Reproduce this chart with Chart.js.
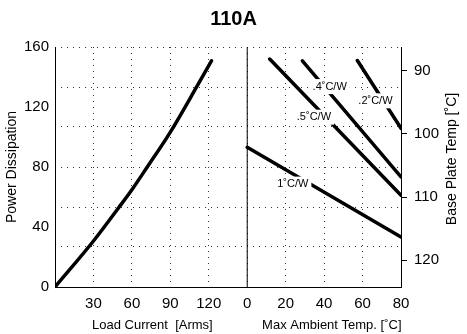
<!DOCTYPE html>
<html>
<head>
<meta charset="utf-8">
<script src="https://cdn.jsdelivr.net/npm/chart.js@4"></script>
<style>
html, body { margin: 0; padding: 0; background: #fff; }
</style>
</head>
<body>
<canvas id="chart" width="467" height="334"></canvas>
<script>
const FONT = "'Liberation Sans', Arial, Helvetica, sans-serif";

// left panel: power dissipation vs load current
const loadCurrent = [0, 30.8, 49.8, 60.7, 71.6, 90, 110.4, 122.1];
const loadPower = [0, 31.5, 53, 65.7, 79.5, 103.3, 133.2, 150.8];

// right panel: power dissipation vs max ambient, one line per heatsink
const ratingNames = ['1˚C/W', '.5˚C/W', '.4˚C/W', '.2˚C/W'];
const ratingStartTemp = [0, 11.7, 28.7, 57.3];
const ratingStartPower = [93.1, 152, 150.8, 151];
const ratingEndTemp = [80, 80, 80, 80];
const ratingEndPower = [33.3, 61.2, 73.4, 105.8];
const ratingLabelTemp = [23.7, 34.7, 42.9, 66.7];
const ratingLabelPower = [68.6, 113.2, 133.6, 124.1];

const currentTicks = [30, 60, 90, 120];
const ambientTicks = [0, 20, 40, 60, 80];
const powerTicks = [0, 40, 80, 120, 160];
const basePlateTicks = [90, 100, 110, 120];

// both panels share one x scale: current 0..150, then ambient 0..80 squeezed in
const SPLIT = 150;
const T_STEP = 1.5;
function toX(t) { return SPLIT + t * T_STEP; }

const datasets = [];
datasets.push({
    data: loadCurrent.map((c, i) => ({ x: c, y: loadPower[i] })),
    borderColor: '#000',
    borderWidth: 3.5,
    borderCapStyle: 'round',
    cubicInterpolationMode: 'monotone',
    pointRadius: 0
});
ratingNames.forEach((name, i) => {
    datasets.push({
        label: name,
        data: [
            { x: toX(ratingStartTemp[i]), y: ratingStartPower[i] },
            { x: toX(ratingEndTemp[i]), y: ratingEndPower[i] }
        ],
        borderColor: '#000',
        borderWidth: 3.5,
        borderCapStyle: 'round',
        pointRadius: 0
    });
});
// solid divider between the two panels
datasets.push({
    data: [{ x: SPLIT, y: 0 }, { x: SPLIT, y: 160 }],
    borderColor: '#000',
    borderWidth: 1,
    pointRadius: 0
});

const panelText = {
    id: 'panelText',
    afterDatasetsDraw(chart) {
        const { ctx, scales: { x, y } } = chart;
        ctx.save();
        ctx.font = '11px ' + FONT;
        ctx.textAlign = 'center';
        ctx.textBaseline = 'middle';
        ratingNames.forEach((name, i) => {
            const px = x.getPixelForValue(toX(ratingLabelTemp[i]));
            const py = y.getPixelForValue(ratingLabelPower[i]);
            const w = ctx.measureText(name).width + 6;
            ctx.fillStyle = '#fff';
            ctx.fillRect(px - w / 2, py - 7.5, w, 15);
            ctx.fillStyle = '#000';
            ctx.fillText(name, px, py);
        });
        ctx.restore();
    },
    afterDraw(chart) {
        const { ctx, scales: { x } } = chart;
        ctx.save();
        ctx.fillStyle = '#000';
        ctx.textAlign = 'center';
        ctx.textBaseline = 'middle';
        ctx.font = '13px ' + FONT;
        ctx.fillText('Load Current  [Arms]', x.getPixelForValue(76), chart.height - 9);
        ctx.fillText('Max Ambient Temp. [˚C]', x.getPixelForValue(216), chart.height - 9);
        ctx.font = '14px ' + FONT;
        ctx.translate(452, 159);
        ctx.rotate(-Math.PI / 2);
        ctx.fillText('Base Plate Temp [˚C]', 0, 0);
        ctx.restore();
    }
};

new Chart(document.getElementById('chart'), {
    type: 'line',
    data: { datasets: datasets },
    options: {
        responsive: false,
        animation: false,
        layout: { padding: 0 },
        plugins: {
            legend: { display: false },
            tooltip: { enabled: false },
            title: {
                display: true,
                text: '110A',
                color: '#000',
                font: { family: FONT, size: 20, weight: 'bold' },
                padding: { top: 7, bottom: 16 }
            }
        },
        scales: {
            x: {
                type: 'linear',
                min: 0,
                max: toX(80),
                afterBuildTicks: function (scale) {
                    scale.ticks = currentTicks.concat(ambientTicks.map(toX)).map(v => ({ value: v }));
                },
                afterFit: function (scale) { scale.height = 47; },
                ticks: {
                    color: '#000',
                    padding: 8,
                    font: { family: FONT, size: 15 },
                    callback: function (v) { return v >= SPLIT ? String(Math.round((v - SPLIT) / T_STEP)) : String(v); }
                },
                grid: { color: '#333', drawTicks: false },
                border: { color: '#000', width: 1, dash: [1, 5] }
            },
            y: {
                position: 'left',
                min: 0,
                max: 160,
                afterBuildTicks: function (scale) {
                    scale.ticks = powerTicks.map(v => ({ value: v }));
                },
                afterFit: function (scale) { scale.width = 55; },
                ticks: { color: '#000', padding: 6, font: { family: FONT, size: 15 } },
                grid: { display: false, drawTicks: false },
                border: { color: '#000', width: 1 },
                title: {
                    display: true,
                    text: 'Power Dissipation',
                    color: '#000',
                    font: { family: FONT, size: 14 },
                    padding: { top: 4, bottom: 0 }
                }
            },
            yg: {
                position: 'left',
                min: 0,
                max: 160,
                afterBuildTicks: function (scale) {
                    const t = [];
                    for (let i = 0; i <= 6; i++) t.push({ value: i * 160 / 6 });
                    scale.ticks = t;
                },
                afterFit: function (scale) { scale.width = 0; },
                ticks: { display: false },
                grid: { color: '#333', drawTicks: false },
                border: { display: false, dash: [1, 5] }
            },
            y2: {
                position: 'right',
                reverse: true,
                min: 86.26,
                max: 124.23,
                afterBuildTicks: function (scale) {
                    scale.ticks = basePlateTicks.map(v => ({ value: v }));
                },
                afterFit: function (scale) { scale.width = 66; },
                ticks: { color: '#000', padding: 7, font: { family: FONT, size: 15 } },
                grid: { drawOnChartArea: false, drawTicks: true, tickLength: 6, tickColor: '#000' },
                border: { color: '#000', width: 1 }
            }
        }
    },
    plugins: [panelText]
});
</script>
</body>
</html>
